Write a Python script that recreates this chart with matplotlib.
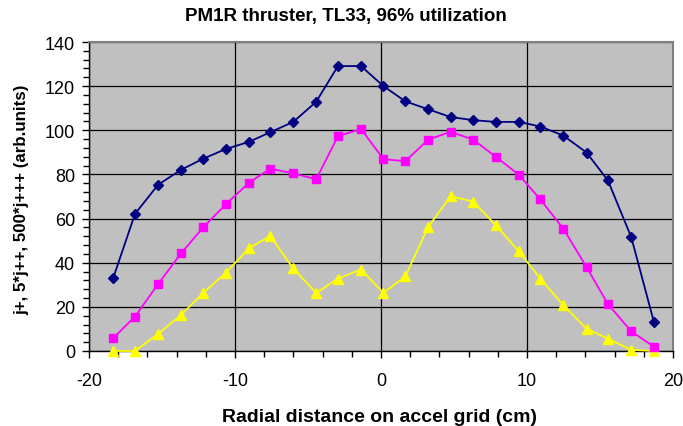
import matplotlib
matplotlib.use("Agg")
import matplotlib.pyplot as plt
from matplotlib.ticker import MultipleLocator

x = [-18.33, -16.85, -15.27, -13.70, -12.18, -10.64, -9.03, -7.59, -6.01, -4.44,
     -2.95, -1.37, 0.17, 1.67, 3.24, 4.77, 6.30, 7.85, 9.45, 10.91, 12.49,
     14.08, 15.54, 17.14, 18.69]
j_plus = [33.3, 62.1, 75.3, 82.1, 87.1, 91.5, 94.8, 99.1, 103.8, 112.9,
          129.1, 129.1, 120.0, 113.1, 109.5, 106.0, 104.6, 103.8, 103.8, 101.7,
          97.6, 89.9, 77.3, 51.6, 13.2]
j_pp = [5.9, 15.6, 30.3, 44.2, 56.0, 66.4, 76.3, 82.6, 80.5, 77.8,
        97.3, 100.6, 86.9, 86.0, 95.8, 99.3, 95.8, 88.1, 79.8, 68.7,
        55.4, 38.0, 21.3, 8.9, 2.0]
j_ppp = [0.0, 0.0, 7.7, 16.3, 26.3, 35.4, 46.6, 52.1, 37.4, 26.3,
         32.8, 36.9, 26.3, 33.9, 56.3, 70.1, 67.7, 57.1, 45.1, 32.8,
         20.7, 10.1, 5.6, 0.5, 0.0]
xticks = [-20, -10, 0, 10, 20]
yticks = [0, 20, 40, 60, 80, 100, 120, 140]

plt.rcParams['font.family'] = ['Liberation Sans', 'DejaVu Sans']
plt.rcParams['axes.unicode_minus'] = False

fig = plt.figure(figsize=(6.83, 4.27), dpi=100)
ax = fig.add_axes([89/683, 75/427, (673-89)/683, (352-43)/427])
ax.set_facecolor('#C0C0C0')

ax.plot(x, j_plus, color='#000080', marker='D', markersize=5.5, lw=1.3, clip_on=False, zorder=5)
ax.plot(x, j_pp, color='#FF00FF', marker='s', markersize=6, lw=1.3, clip_on=False, zorder=4)
ax.plot(x, j_ppp, color='#FFFF00', marker='^', markersize=7, lw=1.3, clip_on=False, zorder=3)

ax.set_xlim(-20, 20)
ax.set_ylim(0, 140)
ax.set_xticks(xticks)
ax.set_yticks(yticks)
ax.xaxis.set_minor_locator(MultipleLocator(2))
ax.yaxis.set_minor_locator(MultipleLocator(4))
ax.grid(True, which='major', color='black', lw=0.9)
ax.set_axisbelow(True)
ax.tick_params(which='major', direction='out', length=5, width=1, labelsize=13)
ax.tick_params(axis='x', which='major', pad=10)
ax.tick_params(axis='y', which='major', pad=5)
ax.tick_params(which='minor', direction='out', length=4, width=1)
for s in ['top', 'right']:
    ax.spines[s].set_color('#808080')
    ax.spines[s].set_linewidth(1.5)
for s in ['left', 'bottom']:
    ax.spines[s].set_color('black')
    ax.spines[s].set_linewidth(1)

fig.text(346/683, 1 - 16/427, 'PM1R thruster, TL33, 96% utilization', fontsize=13.5,
         fontweight='bold', ha='center', va='center')
fig.text(380/683, 5/427, 'Radial distance on accel grid (cm)', fontsize=14,
         fontweight='bold', ha='center', va='baseline')
fig.text(22/683, 1 - 200/427, 'j+, 5*j++, 500*j+++ (arb.units)', fontsize=12.2,
         fontweight='bold', ha='center', va='center', rotation=90)

fig.savefig('out.png', dpi=100)
